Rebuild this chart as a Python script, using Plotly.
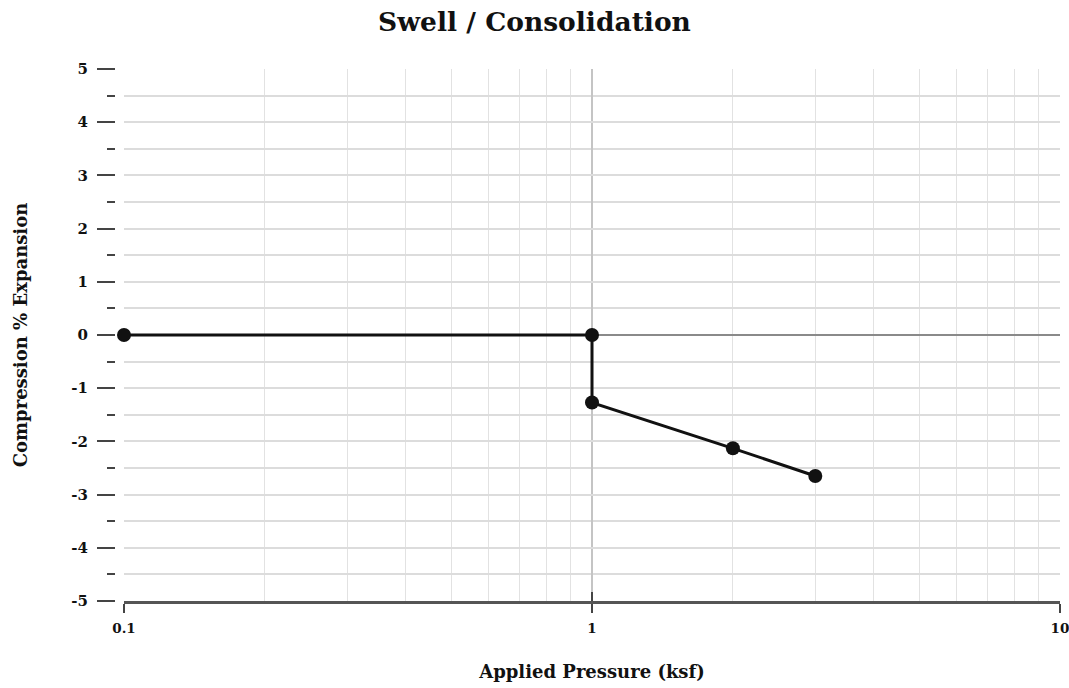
import plotly.graph_objects as go

# Swell / consolidation test results
pressure_ksf = [0.1, 1, 1, 2, 3]
strain_pct = [0.0, 0.0, -1.27, -2.13, -2.65]

x_tick_vals = [0.1, 1, 10]
x_tick_text = ["0.1", "1", "10"]
x_minor_vals = [0.2, 0.3, 0.4, 0.5, 0.6, 0.7, 0.8, 0.9,
                2, 3, 4, 5, 6, 7, 8, 9]
y_tick_vals = [5, 4, 3, 2, 1, 0, -1, -2, -3, -4, -5]
y_tick_text = ["5", "4", "3", "2", "1", "0", "-1", "-2", "-3", "-4", "-5"]

FONT = "DejaVu Serif"
W, H = 1069, 688
L, R = 115, 9
gap = 9 / (W - L - R)

fig = go.Figure()
fig.add_trace(go.Scatter(
    x=pressure_ksf, y=strain_pct, mode="lines+markers",
    line=dict(color="#111111", width=3),
    marker=dict(color="#111111", size=14),
    showlegend=False, cliponaxis=False,
))
# companion axis carrying the inward half of the x tick marks
fig.add_trace(go.Scatter(x=[0.1], y=[None], xaxis="x2", showlegend=False,
                         hoverinfo="skip"))

fig.update_layout(
    width=W, height=H,
    margin=dict(l=L, r=R, t=69, b=87, autoexpand=False),
    paper_bgcolor="white", plot_bgcolor="white",
    title=dict(text="<b>Swell / Consolidation</b>", x=0.5, xanchor="center",
               y=0.968, yanchor="middle",
               font=dict(family=FONT, size=26.5, color="#111111")),
    xaxis=dict(
        type="log", range=[-1, 1], domain=[gap, 1], automargin=False,
        tickmode="array", tickvals=x_tick_vals,
        ticktext=["<b>%s</b>" % t for t in x_tick_text],
        ticks="outside", ticklen=9, tickwidth=2, tickcolor="#444444",
        ticklabelstandoff=4, ticklabeloverflow="allow",
        showgrid=True, gridcolor="#c4c4c4", gridwidth=1.5,
        minor=dict(tickmode="array", tickvals=x_minor_vals, showgrid=True,
                   gridcolor="#e2e2e2", gridwidth=1, ticks=""),
        showline=True, linecolor="#555555", linewidth=2.5,
        zeroline=False,
        tickfont=dict(family=FONT, size=13.5, color="#111111"),
        title=dict(text="<b>Applied Pressure (ksf)</b>", standoff=31,
                   font=dict(family=FONT, size=18, color="#111111")),
    ),
    xaxis2=dict(
        type="log", range=[-1, 1], domain=[gap, 1], overlaying="x",
        anchor="y", side="bottom", automargin=False,
        tickmode="array", tickvals=x_tick_vals, showticklabels=False,
        ticks="inside", ticklen=9, tickwidth=2, tickcolor="#444444",
        showgrid=False, showline=False, zeroline=False,
    ),
    yaxis=dict(
        range=[-5, 5], anchor="free", position=0, automargin=False,
        tickmode="array", tickvals=y_tick_vals,
        ticktext=["<b>%s</b>" % t for t in y_tick_text],
        ticks="outside", ticklen=18, tickwidth=2, tickcolor="#444444",
        ticklabelstandoff=6,
        showgrid=True, gridcolor="#dcdcdc", gridwidth=1.5,
        minor=dict(dtick=0.5, ticks="outside", ticklen=8, tickwidth=2,
                   tickcolor="#444444", showgrid=True,
                   gridcolor="#dcdcdc", gridwidth=1.5),
        zeroline=True, zerolinecolor="#8a8a8a", zerolinewidth=2,
        showline=False,
        tickfont=dict(family=FONT, size=15, color="#111111"),
        title=dict(text="<b>Compression % Expansion</b>", standoff=38,
                   font=dict(family=FONT, size=18, color="#111111")),
    ),
)

fig.write_html("out.html")
